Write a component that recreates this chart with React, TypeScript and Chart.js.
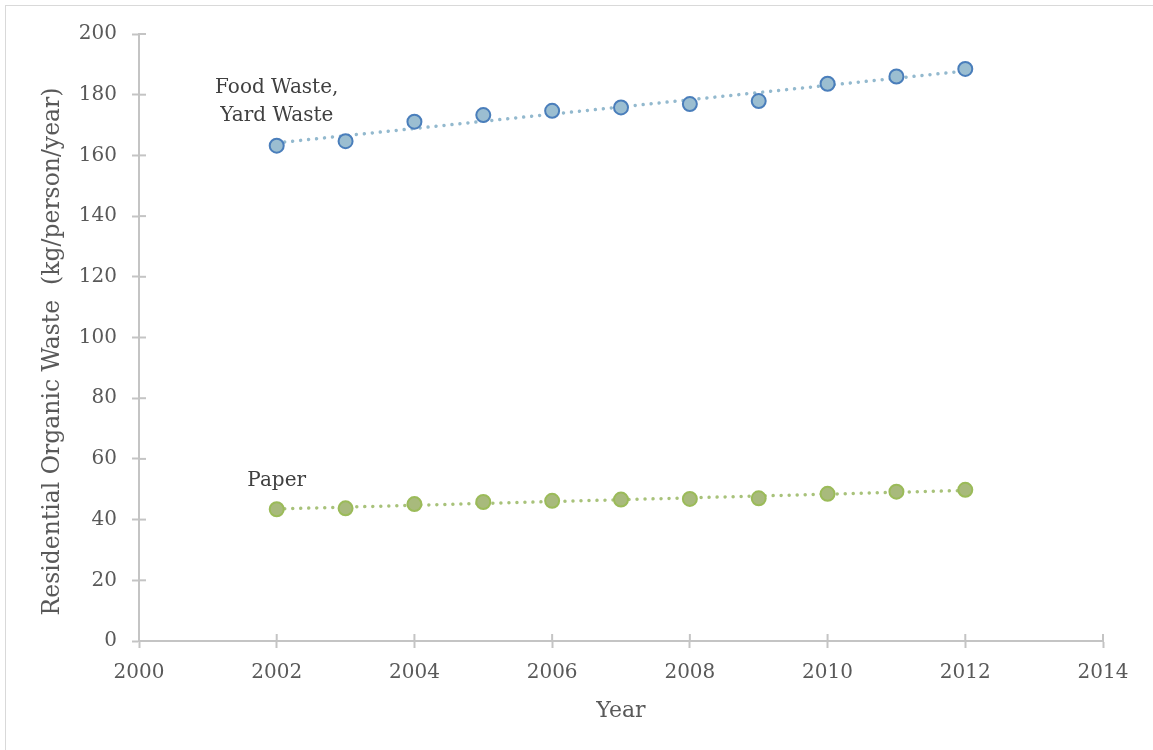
import React, { useEffect, useRef } from "react";
import { Chart, registerables } from "chart.js";

Chart.register(...registerables);

const years = [2002, 2003, 2004, 2005, 2006, 2007, 2008, 2009, 2010, 2011, 2012];
const foodYardWaste = [163.2, 164.7, 171.1, 173.3, 174.7, 175.8, 176.9, 177.9, 183.6, 186.0, 188.5];
const paperWaste = [43.4, 43.7, 45.1, 45.8, 46.2, 46.6, 46.8, 47.0, 48.5, 49.2, 49.8];
const seriesLabels = ["Food Waste,\nYard Waste", "Paper"];
const xAxisTitle = "Year";
const yAxisTitle = "Residential Organic Waste  (kg/person/year)";

const FONT = "'DejaVu Serif', serif";
const TEXT = "#595959";
const AXIS = "#c4c4c4";

function linearFit(xs: number[], ys: number[]) {
  const n = xs.length;
  const mx = xs.reduce((a, b) => a + b, 0) / n;
  const my = ys.reduce((a, b) => a + b, 0) / n;
  let sxy = 0, sxx = 0;
  for (let i = 0; i < n; i++) {
    sxy += (xs[i] - mx) * (ys[i] - my);
    sxx += (xs[i] - mx) * (xs[i] - mx);
  }
  const slope = sxy / sxx;
  const x0 = xs[0], x1 = xs[n - 1];
  return [
    { x: x0, y: my + slope * (x0 - mx) },
    { x: x1, y: my + slope * (x1 - mx) },
  ];
}

const decorPlugin = {
  id: "decor",
  beforeDraw(chart: any) {
    const ctx = chart.ctx;
    ctx.save();
    ctx.fillStyle = "#ffffff";
    ctx.fillRect(0, 0, chart.width, chart.height);
    ctx.strokeStyle = "#d9d9d9";
    ctx.lineWidth = 1;
    ctx.strokeRect(5.5, 5.5, chart.width + 10, chart.height + 10);
    ctx.restore();
  },
  afterDraw(chart: any) {
    const ctx = chart.ctx;
    const xs = chart.scales.x;
    const ys = chart.scales.y;
    const area = chart.chartArea;
    ctx.save();
    ctx.strokeStyle = AXIS;
    ctx.lineWidth = 2;
    // inward halves of cross ticks
    for (let v = 0; v <= 200; v += 20) {
      const py = ys.getPixelForValue(v);
      ctx.beginPath();
      ctx.moveTo(area.left, py);
      ctx.lineTo(area.left + 7, py);
      ctx.stroke();
    }
    for (let v = 2000; v <= 2014; v += 2) {
      const px = xs.getPixelForValue(v);
      ctx.beginPath();
      ctx.moveTo(px, area.bottom);
      ctx.lineTo(px, area.bottom - 7);
      ctx.stroke();
    }
    // y axis title
    ctx.save();
    ctx.translate(53, (area.top + area.bottom) / 2 + 14);
    ctx.rotate(-Math.PI / 2);
    ctx.fillStyle = TEXT;
    ctx.font = "23.5px " + FONT;
    ctx.textAlign = "center";
    ctx.textBaseline = "middle";
    ctx.fillText(yAxisTitle, 0, 0);
    ctx.restore();
    // series labels
    ctx.fillStyle = "#404040";
    ctx.font = "20px " + FONT;
    ctx.textAlign = "center";
    ctx.textBaseline = "middle";
    const fx = xs.getPixelForValue(years[0]);
    const foodLines = seriesLabels[0].split("\n");
    const fy = ys.getPixelForValue(182.2);
    foodLines.forEach((t, i) => ctx.fillText(t, fx, fy + i * 28));
    ctx.fillText(seriesLabels[1], fx, ys.getPixelForValue(52.7));
    ctx.restore();
  },
};

export default function App() {
  const ref = useRef<HTMLCanvasElement | null>(null);
  useEffect(() => {
    document.body.style.margin = "0";
    const canvas = ref.current!;
    const foodTrend = linearFit(years, foodYardWaste);
    const paperTrend = linearFit(years, paperWaste);
    const chart = new Chart(canvas, {
      type: "scatter",
      data: {
        datasets: [
          {
            label: "Food Waste, Yard Waste",
            data: years.map((x, i) => ({ x, y: foodYardWaste[i] })),
            backgroundColor: "#9bbed1",
            borderColor: "#4a7ebb",
            borderWidth: 2,
            pointRadius: 7,
            order: 0,
          },
          {
            label: "Paper",
            data: years.map((x, i) => ({ x, y: paperWaste[i] })),
            backgroundColor: "#a8ba7c",
            borderColor: "#9bbb59",
            borderWidth: 2,
            pointRadius: 7,
            order: 0,
          },
          {
            type: "line",
            label: "Food trend",
            data: foodTrend,
            borderColor: "#93b9ce",
            borderWidth: 3.5,
            borderDash: [0.01, 8],
            borderCapStyle: "round",
            pointRadius: 0,
            showLine: true,
            fill: false,
            order: 1,
          } as any,
          {
            type: "line",
            label: "Paper trend",
            data: paperTrend,
            borderColor: "#a8c27a",
            borderWidth: 3.5,
            borderDash: [0.01, 8],
            borderCapStyle: "round",
            pointRadius: 0,
            showLine: true,
            fill: false,
            order: 1,
          } as any,
        ],
      },
      options: {
        animation: false,
        responsive: false,
        maintainAspectRatio: false,
        layout: { padding: { left: 0, top: 34, right: 50, bottom: 0 } },
        plugins: {
          legend: { display: false },
          tooltip: { enabled: false },
          title: { display: false },
        },
        scales: {
          x: {
            type: "linear",
            min: 2000,
            max: 2014,
            afterFit: (s: any) => { s.height = 109; },
            ticks: {
              stepSize: 2,
              color: TEXT,
              font: { family: FONT, size: 20 },
              padding: 13,
              callback: (v: any) => String(v),
            },
            grid: {
              drawOnChartArea: false,
              drawTicks: true,
              tickLength: 7,
              tickWidth: 2,
              tickColor: AXIS,
            },
            border: { color: AXIS, width: 2 },
            title: {
              display: true,
              text: xAxisTitle,
              color: TEXT,
              font: { family: FONT, size: 22 },
              padding: { top: 0, bottom: 26 },
            },
          },
          y: {
            min: 0,
            max: 200,
            afterFit: (s: any) => { s.width = 139; },
            ticks: {
              stepSize: 20,
              color: TEXT,
              font: { family: FONT, size: 20 },
              padding: 15,
            },
            grid: {
              drawOnChartArea: false,
              drawTicks: true,
              tickLength: 7,
              tickWidth: 2,
              tickColor: AXIS,
            },
            border: { color: AXIS, width: 2 },
            title: { display: false },
          },
        },
      },
      plugins: [decorPlugin],
    });
    return () => chart.destroy();
  }, []);
  return (
    <div style={{ position: "fixed", left: 0, top: 0, width: 1153, height: 750 }}>
      <canvas ref={ref} width={1153} height={750} style={{ width: 1153, height: 750 }} />
    </div>
  );
}
